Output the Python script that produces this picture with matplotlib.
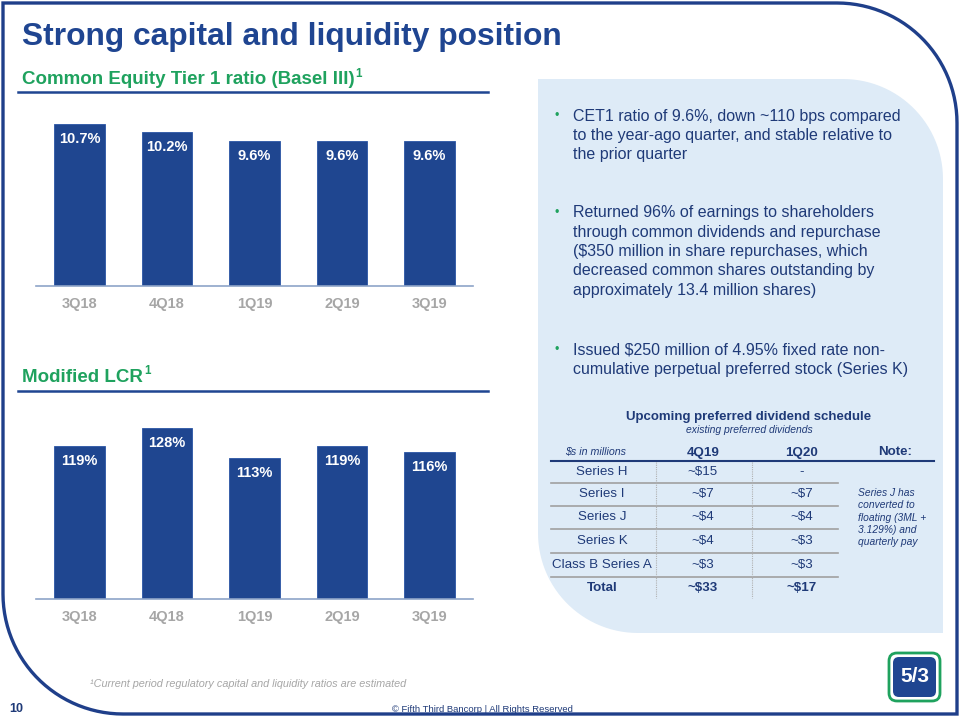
import numpy as np
import matplotlib
matplotlib.use("Agg")
import matplotlib.pyplot as plt
from matplotlib.patches import Polygon, FancyBboxPatch

plt.rcParams['font.family'] = ['Liberation Sans', 'DejaVu Sans']

# ---- data ----
quarters = ['3Q18', '4Q18', '1Q19', '2Q19', '3Q19']
cet1 = [10.7, 10.2, 9.6, 9.6, 9.6]
lcr = [119, 128, 113, 119, 116]

bullets = [
    ["CET1 ratio of 9.6%, down ~110 bps compared",
     "to the year-ago quarter, and stable relative to",
     "the prior quarter"],
    ["Returned 96% of earnings to shareholders",
     "through common dividends and repurchase",
     "($350 million in share repurchases, which",
     "decreased common shares outstanding by",
     "approximately 13.4 million shares)"],
    ["Issued $250 million of 4.95% fixed rate non-",
     "cumulative perpetual preferred stock (Series K)"],
]

table_cols = ['4Q19', '1Q20']
table_rows = ['Series H', 'Series I', 'Series J', 'Series K', 'Class B Series A', 'Total']
div_4q19 = ['~$15', '~$7', '~$4', '~$4', '~$3', '~$33']
div_1q20 = ['-', '~$7', '~$4', '~$3', '~$3', '~$17']
note_lines = ['Series J has', 'converted to', 'floating (3ML +', '3.129%) and', 'quarterly pay']

BLUE = '#1F4591'
DARK = '#1F3A78'
GREEN = '#1FA25E'
GRAY = '#A6A6A6'
PANEL = '#DEEBF7'

W, H = 960, 720
fig = plt.figure(figsize=(9.6, 7.2), dpi=100)
bg = fig.add_axes([0, 0, 1, 1])
bg.set_xlim(0, W)
bg.set_ylim(H, 0)
bg.axis('off')
renderer = fig.canvas.get_renderer()


def rounded_shape(x0, y0, x1, y1, r):
    # square top-left / bottom-right, rounded top-right / bottom-left
    t = np.linspace(0, np.pi / 2, 30)
    pts = [(x0, y0), (x1 - r, y0)]
    pts += list(zip(x1 - r + r * np.sin(t), y0 + r - r * np.cos(t)))
    pts += [(x1, y1), (x0 + r, y1)]
    pts += list(zip(x0 + r - r * np.sin(t), y1 - r + r * np.cos(t)))
    return np.array(pts)


def text_sup(x, y, s, sup, size, **kw):
    # main text followed by a small raised footnote mark
    t = bg.text(x, y, s, fontsize=size, va='center', **kw)
    x_end = t.get_window_extent(renderer).x1 + 1
    bg.text(x_end, y - size * 0.45, sup, fontsize=size * 0.62, va='center', **kw)


# light blue panel
bg.add_patch(Polygon(rounded_shape(538, 79, 943, 633, 100), closed=True,
                     facecolor=PANEL, edgecolor='none', zorder=0))
# slide border
bg.add_patch(Polygon(rounded_shape(3, 3, 957, 714, 120), closed=True,
                     facecolor='none', edgecolor='#1F3F8A', lw=2.4, zorder=5))

# titles
bg.text(22, 37, 'Strong capital and liquidity position', fontsize=22.9,
        fontweight='bold', color=BLUE, va='center')
text_sup(22, 80, 'Common Equity Tier 1 ratio (Basel III)', '1', 13.5,
         fontweight='bold', color=GREEN)
bg.plot([18, 488], [92, 92], color=BLUE, lw=1.8)
text_sup(22, 377, 'Modified LCR', '1', 13.5, fontweight='bold', color=GREEN)
bg.plot([18, 488], [391, 391], color=BLUE, lw=1.8)

# bullets
bullet_y0 = [116, 213, 350]
for lines, y0 in zip(bullets, bullet_y0):
    bg.text(557, y0, '\u2022', color=GREEN, fontsize=9, va='center', ha='center')
    for i, line in enumerate(lines):
        bg.text(573, y0 + i * 19.3, line, fontsize=11.5, color=DARK, va='center')

# table
bg.text(749, 417, 'Upcoming preferred dividend schedule', fontsize=9.5,
        fontweight='bold', color=DARK, ha='center', va='center')
bg.text(749, 430, 'existing preferred dividends', fontsize=7.5,
        style='italic', color=DARK, ha='center', va='center')
bg.text(596, 452, '$s in millions', fontsize=7.7, style='italic',
        color=DARK, ha='center', va='center')
col_x = [703, 802]
for cx, c in zip(col_x, table_cols):
    bg.text(cx, 453, c, fontsize=9.6, fontweight='bold', color=DARK,
            ha='center', va='center')
bg.text(895, 452, 'Note:', fontsize=9.6, fontweight='bold', color=DARK,
        ha='center', va='center')
bg.plot([551, 934], [461, 461], color=DARK, lw=1.5)

row_y = [472, 494, 517, 541, 565, 588]
for i, (lab, a, b) in enumerate(zip(table_rows, div_4q19, div_1q20)):
    wt = 'bold' if lab == 'Total' else 'normal'
    bg.text(602, row_y[i], lab, fontsize=9.6, fontweight=wt, color=DARK,
            ha='center', va='center')
    bg.text(col_x[0], row_y[i], a, fontsize=9.6, fontweight=wt, color=DARK,
            ha='center', va='center')
    bg.text(col_x[1], row_y[i], b, fontsize=9.6, fontweight=wt, color=DARK,
            ha='center', va='center')
    if i < len(table_rows) - 1:
        sy = (row_y[i] + row_y[i + 1]) / 2
        bg.plot([551, 838], [sy, sy], color='#A0A0A0', lw=1.2)
for vx in [656, 752]:
    bg.plot([vx, vx], [462, 598], color='#B0B0B0', lw=0.8, ls=(0, (1, 1)))
for i, line in enumerate(note_lines):
    bg.text(858, 493 + i * 12.3, line, fontsize=7.4, style='italic',
            color=DARK, va='center')

# footer
bg.text(90, 684, '\u00b9Current period regulatory capital and liquidity ratios are estimated',
        fontsize=7.8, style='italic', color=GRAY, va='center')
bg.text(9, 709, '10', fontsize=9, fontweight='bold', color=DARK, va='center')
bg.text(482, 709, '\u00a9 Fifth Third Bancorp | All Rights Reserved', fontsize=6.8,
        color=DARK, ha='center', va='center')

# logo
bg.add_patch(FancyBboxPatch((889, 653), 51, 48, boxstyle='round,pad=0,rounding_size=8',
                            facecolor='white', edgecolor=GREEN, lw=2, zorder=3))
bg.add_patch(FancyBboxPatch((893, 657), 43, 40, boxstyle='round,pad=0,rounding_size=6',
                            facecolor=BLUE, edgecolor='none', zorder=4))
bg.text(914.5, 677, '5/3', fontsize=15, fontweight='bold', color='white',
        ha='center', va='center', zorder=6)


def bar_axes(left_px, right_px, top_px, base_px, ymin, px_per_unit):
    ax = fig.add_axes([left_px / W, 1 - base_px / H,
                       (right_px - left_px) / W, (base_px - top_px) / H])
    ax.set_xlim(-0.5, 4.5)
    ax.set_ylim(ymin, ymin + (base_px - top_px) / px_per_unit)
    ax.patch.set_alpha(0)
    for s in ['top', 'right', 'left']:
        ax.spines[s].set_visible(False)
    ax.spines['bottom'].set_color('#8EA4C8')
    ax.spines['bottom'].set_linewidth(1.2)
    ax.set_yticks([])
    ax.tick_params(axis='x', length=0, pad=8, labelsize=10.5, labelcolor=GRAY)
    return ax


ax1 = bar_axes(35.75, 473.25, 100, 286, 0, 15.14)
ax1.bar(range(5), cet1, width=0.58, color='#1F4690', edgecolor='#2A55A5', lw=0.6)
ax1.set_xticks(range(5), quarters, fontweight='bold')
for i, v in enumerate(cet1):
    ax1.annotate(f'{v:.1f}%', (i, v), xytext=(0, -11), textcoords='offset points',
                 ha='center', va='center', color='white', fontsize=10.5, fontweight='bold')

ax2 = bar_axes(35.75, 473.25, 400, 599, 42.5, 2.0)
ax2.bar(range(5), lcr, width=0.58, color='#1F4690', edgecolor='#2A55A5', lw=0.6)
ax2.set_xticks(range(5), quarters, fontweight='bold')
for i, v in enumerate(lcr):
    ax2.annotate(f'{v}%', (i, v), xytext=(0, -11), textcoords='offset points',
                 ha='center', va='center', color='white', fontsize=10.5, fontweight='bold')

fig.savefig('out.png', dpi=100)
